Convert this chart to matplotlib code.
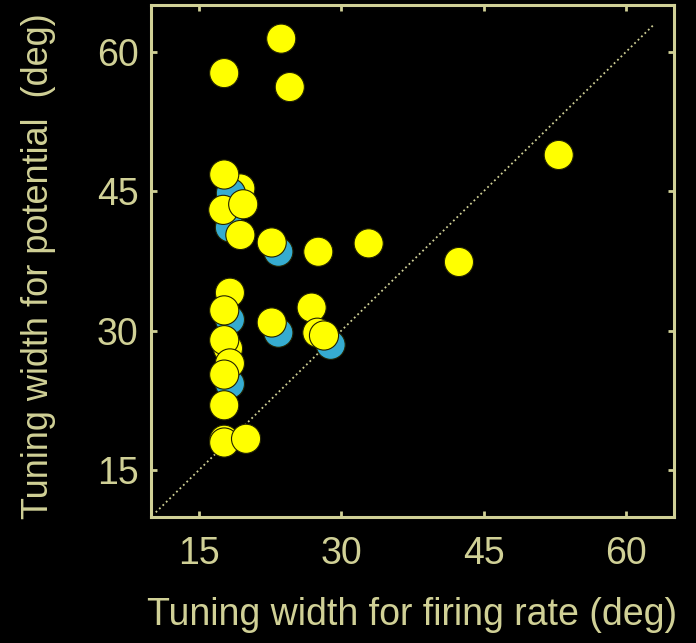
import matplotlib.pyplot as plt

# tuning widths (deg), listed in drawing order (later points sit on top)
rate = [23.7, 17.7, 24.6,
        23.4, 18.3, 18.3, 23.4, 28.9, 18.3,
        19.4, 18.4, 17.7, 17.6, 19.7, 19.4, 22.7, 27.6, 32.9,
        52.9, 42.4, 18.3, 17.7, 22.7, 26.9, 27.5, 28.2,
        18.1, 17.7, 18.3, 17.7, 17.7, 17.7, 17.7, 20.0]
potential = [61.4, 57.7, 56.2,
             38.5, 31.2, 24.3, 29.8, 28.5, 41.1,
             45.3, 44.8, 46.8, 43.0, 43.6, 40.3, 39.5, 38.5, 39.4,
             48.9, 37.4, 34.1, 32.2, 30.9, 32.5, 29.8, 29.5,
             28.1, 29.0, 26.5, 25.3, 22.0, 18.3, 18.0, 18.4]
group = ['y', 'y', 'y',
         'b', 'b', 'b', 'b', 'b', 'b',
         'y', 'b', 'y', 'y', 'y', 'y', 'y', 'y', 'y',
         'y', 'y', 'y', 'y', 'y', 'y', 'y', 'y',
         'y', 'y', 'y', 'y', 'y', 'y', 'y', 'y']

ticks = [15, 30, 45, 60]
fg = '#d0d096'
colors = {'y': '#ffff00', 'b': '#36acd0'}

plt.rcParams['font.family'] = ['Liberation Sans', 'DejaVu Sans']

fig = plt.figure(figsize=(6.96, 6.43), dpi=100, facecolor='black')
ax = fig.add_axes([0.217, 0.196, 0.751, 0.796])
ax.set_facecolor('black')

# identity line
ax.plot([10.5, 63], [10.5, 63], ls=':', lw=1.3, color=fg, zorder=1)
ax.scatter(rate, potential, s=440, c=[colors[g] for g in group],
           edgecolors='#222200', linewidths=0.8, zorder=2)

ax.set_xlim(10, 65)
ax.set_ylim(10, 65)
ax.set_xticks(ticks)
ax.set_yticks(ticks)
for s in ax.spines.values():
    s.set_color(fg)
    s.set_linewidth(2.2)
ax.tick_params(direction='in', length=4, width=2, color=fg, labelcolor=fg,
               labelsize=27, top=True, right=True)
ax.tick_params(axis='x', pad=14)
ax.tick_params(axis='y', pad=9)

ax.set_xlabel('Tuning width for firing rate (deg)', color=fg, fontsize=27,
              labelpad=18)
ax.set_ylabel('Tuning width for potential  (deg)', color=fg, fontsize=26)
ax.yaxis.set_label_coords(-0.182, 0.49)

fig.savefig('out.png', dpi=100, facecolor='black')
